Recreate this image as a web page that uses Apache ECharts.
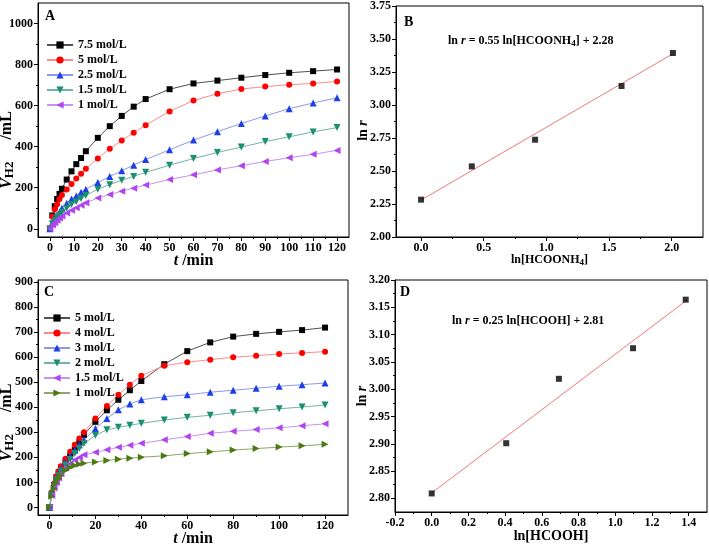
<!DOCTYPE html>
<html>
<head>
<meta charset="utf-8">
<script src="https://cdn.jsdelivr.net/npm/echarts@6/dist/echarts.min.js"></script>
<style>html,body{margin:0;padding:0;background:#fff;}#c{width:709px;height:547px;}</style>
</head>
<body>
<div id="c"></div>
<script>
// ---------- data ----------
const timesA = [0,1,2,3,4,5,7,9,11,13,15,20,25,30,35,40,50,60,70,80,90,100,110,120];
const namesA = ['7.5 mol/L','5 mol/L','2.5 mol/L','1.5 mol/L','1 mol/L'];
const a75 = [0,65,110,145,170,195,240,280,315,345,378,443,500,550,595,632,680,708,722,736,749,760,768,776];
const a5  = [0,60,95,120,145,165,192,218,245,268,292,343,390,430,468,505,572,625,658,681,693,702,708,718];
const a25 = [0,30,50,65,80,100,125,145,160,178,193,225,255,283,310,337,385,432,473,513,550,585,613,638];
const a15 = [0,25,40,55,65,80,100,118,132,148,162,193,215,237,255,275,310,342,372,398,425,448,472,493];
const a1  = [0,18,30,42,52,62,77,90,103,115,127,150,167,183,198,213,240,263,287,307,328,346,363,382];

const timesC = [0,1,2,3,4,5,7,9,11,13,15,20,25,30,35,40,50,60,70,80,90,100,110,120];
const namesC = ['5 mol/L','4 mol/L','3 mol/L','2 mol/L','1.5 mol/L','1 mol/L'];
const c5  = [0,55,90,120,140,160,185,205,230,260,290,342,388,430,468,505,572,624,659,682,693,701,708,718];
const c4  = [0,60,95,125,145,165,195,222,250,275,300,355,405,450,490,526,566,580,590,600,606,613,617,622];
const c3  = [0,55,90,115,135,155,180,205,228,250,270,315,355,390,413,430,442,450,460,468,476,484,490,497];
const c2  = [0,50,85,110,128,145,170,192,215,235,255,288,310,320,328,336,349,360,368,378,386,394,401,409];
const c15 = [0,48,78,100,118,135,158,175,190,200,210,220,230,240,248,256,270,283,296,304,311,318,326,334];
const c1  = [0,45,75,98,115,128,148,160,168,173,177,182,188,193,197,201,206,215,222,229,235,241,246,252];

const lnAmmonium = [0,0.405,0.91,1.6,2.01];
const lnrB = [2.283,2.535,2.737,3.144,3.394];
const fitBx = [0,2.01];
const fitBy = [2.28,3.388];

const lnAcid = [0,0.406,0.693,1.097,1.384];
const lnrD = [2.809,2.901,3.019,3.075,3.164];
const fitDx = [0,1.386];
const fitDy = [2.81,3.162];

// tick labels
const ticksAx = [0,10,20,30,40,50,60,70,80,90,100,110,120];
const minorAx = [5,15,25,35,45,55,65,75,85,95,105,115];
const ticksAy = [0,200,400,600,800,1000];
const minorAy = [100,300,500,700,900];
const ticksBx = [0,0.5,1.0,1.5,2.0];
const minorBx = [0.25,0.75,1.25,1.75];
const ticksBy = [2.00,2.25,2.50,2.75,3.00,3.25,3.50,3.75];
const minorBy = [2.125,2.375,2.625,2.875,3.125,3.375,3.625];
const ticksCx = [0,20,40,60,80,100,120];
const minorCx = [10,30,50,70,90,110];
const ticksCy = [0,100,200,300,400,500,600,700,800,900];
const minorCy = [50,150,250,350,450,550,650,750,850];
const ticksDx = [-0.2,0,0.2,0.4,0.6,0.8,1.0,1.2,1.4];
const minorDx = [-0.1,0.1,0.3,0.5,0.7,0.9,1.1,1.3];
const ticksDy = [2.80,2.85,2.90,2.95,3.00,3.05,3.10,3.15,3.20];
const minorDy = [2.825,2.875,2.925,2.975,3.025,3.075,3.125,3.175];

// ---------- helpers ----------
const FF = '"Liberation Serif","Times New Roman",serif';
function richFor(size, sub, subPad, gapBefore) {
  return {
    n: {fontFamily: FF, fontWeight: 'bold', fontSize: size, color: '#000'},
    p: {fontFamily: FF, fontWeight: 'bold', fontSize: size, color: '#000', padding: [0,0,0,gapBefore || 0]},
    i: {fontFamily: FF, fontWeight: 'bold', fontStyle: 'italic', fontSize: size, color: '#000'},
    s: {fontFamily: FF, fontWeight: 'bold', fontSize: sub, color: '#000', verticalAlign: 'bottom', padding: [subPad,0,0,0]}
  };
}

function mainAxis(dim, gi, min, max, majors, fmt, name, gap, size, sub, pad, subPad, gapBefore) {
  return {
    type: 'value', gridIndex: gi, min: min, max: max,
    position: dim === 'x' ? 'bottom' : 'left',
    axisLine: {show: true, onZero: false, lineStyle: {color: '#000', width: 1}},
    axisTick: {show: true, customValues: majors, length: 4, lineStyle: {color: '#000', width: 1}},
    axisLabel: {show: true, customValues: majors, formatter: fmt, color: '#000',
      fontFamily: FF, fontWeight: 'bold', fontSize: 12, margin: 5},
    splitLine: {show: false},
    name: name, nameLocation: 'middle', nameGap: gap, nameMoveOverlap: false,
    nameTextStyle: {fontFamily: FF, fontWeight: 'bold', fontSize: size, color: '#000',
      rich: richFor(size, sub, subPad != null ? subPad : Math.round(size * 0.45), gapBefore), padding: pad || 0}
  };
}
function minorAxis(dim, gi, min, max, minors) {
  return {
    type: 'value', gridIndex: gi, min: min, max: max,
    position: dim === 'x' ? 'bottom' : 'left',
    axisLine: {show: false, onZero: false},
    axisTick: {show: true, customValues: minors, length: 2, lineStyle: {color: '#000', width: 1}},
    axisLabel: {show: false},
    splitLine: {show: false}
  };
}
const f0 = v => String(Math.round(v));
const f1 = v => v.toFixed(1);
const f2 = v => v.toFixed(2);

function zip(xs, ys) { return xs.map((x, i) => [x, ys[i]]); }

function curve(prefix, name, xs, ys, ai, sym, rot, size, mcol, lcol) {
  return {
    type: 'line', name: prefix + name, xAxisIndex: ai, yAxisIndex: ai,
    data: zip(xs, ys), symbol: sym, symbolRotate: rot, symbolSize: size,
    showAllSymbol: true,
    itemStyle: {color: mcol}, lineStyle: {color: lcol, width: 1},
    emphasis: {disabled: true}, animation: false, z: 3
  };
}

const chart = echarts.init(document.getElementById('c'), null, {renderer: 'canvas'});

const gridBase = {show: true, borderColor: '#000', borderWidth: 1, containLabel: false, outerBoundsMode: 'none'};
const eqRich = richFor(12, 9, 5);

const option = {
  backgroundColor: '#fff',
  animation: false,
  grid: [
    Object.assign({left: 38, top: 3, width: 311, height: 234}, gridBase),
    Object.assign({left: 396, top: 6, width: 307, height: 231}, gridBase),
    Object.assign({left: 38, top: 280, width: 310, height: 235}, gridBase),
    Object.assign({left: 395, top: 280, width: 312, height: 232}, gridBase)
  ],
  xAxis: [
    mainAxis('x', 0, -5, 125, ticksAx, f0, '{i|t}{n| /min}', 16, 16, 12),
    minorAxis('x', 0, -5, 125, minorAx),
    mainAxis('x', 1, -0.2, 2.25, ticksBx, f1, '{n|ln[HCOONH}{s|4}{n|]}', 16, 12, 9),
    minorAxis('x', 1, -0.2, 2.25, minorBx),
    mainAxis('x', 2, -5, 130, ticksCx, f0, '{i|t}{n| /min}', 16, 16, 12),
    minorAxis('x', 2, -5, 130, minorCx),
    mainAxis('x', 3, -0.2, 1.5, ticksDx, f1, '{n|ln[HCOOH]}', 17, 14, 10),
    minorAxis('x', 3, -0.2, 1.5, minorDx)
  ],
  yAxis: [
    mainAxis('y', 0, -40, 1100, ticksAy, f0, '{i|V}{s|H2}{p|/mL}', 22, 16, 13, [0,60,0,0], 5, 22),
    minorAxis('y', 0, -40, 1100, minorAy),
    mainAxis('y', 1, 2.0, 3.75, ticksBy, f2, '{n|ln }{i|r}', 26, 14, 10, [0,18,0,0]),
    minorAxis('y', 1, 2.0, 3.75, minorBy),
    mainAxis('y', 2, -30, 908, ticksCy, f0, '{i|V}{s|H2}{p|/mL}', 22, 16, 13, [0,50,0,0], 5, 22),
    minorAxis('y', 2, -30, 908, minorCy),
    mainAxis('y', 3, 2.775, 3.2, ticksDy, f2, '{n|ln }{i|r}', 26, 14, 10),
    minorAxis('y', 3, 2.775, 3.2, minorDy)
  ],
  legend: [
    {
      orient: 'vertical', left: 46, top: 39, padding: 0, itemGap: 3,
      itemWidth: 26, itemHeight: 9,
      data: namesA.map(n => 'A: ' + n),
      formatter: n => n.replace(/^[AC]: /, ''),
      textStyle: {fontFamily: FF, fontWeight: 'bold', fontSize: 12, color: '#000'},
      selectedMode: false
    },
    {
      orient: 'vertical', left: 43, top: 312, padding: 0, itemGap: 3,
      itemWidth: 26, itemHeight: 9,
      data: namesC.map(n => 'C: ' + n),
      formatter: n => n.replace(/^[AC]: /, ''),
      textStyle: {fontFamily: FF, fontWeight: 'bold', fontSize: 12, color: '#000'},
      selectedMode: false
    }
  ],
  graphic: [
    {type: 'text', left: 45, top: 9, style: {text: 'A', font: 'bold 14px ' + FF, fill: '#000'}},
    {type: 'text', left: 404, top: 15, style: {text: 'B', font: 'bold 14px ' + FF, fill: '#000'}},
    {type: 'text', left: 44, top: 285, style: {text: 'C', font: 'bold 14px ' + FF, fill: '#000'}},
    {type: 'text', left: 400, top: 285, style: {text: 'D', font: 'bold 14px ' + FF, fill: '#000'}},
    {type: 'text', left: 448, top: 35, style: {text: '{n|ln }{i|r}{n| = 0.55 ln[HCOONH}{s|4}{n|] + 2.28}', rich: eqRich}},
    {type: 'text', left: 452, top: 315, style: {text: '{n|ln }{i|r}{n| = 0.25 ln[HCOOH] + 2.81}', rich: eqRich}}
  ],
  series: [
    curve('A: ', namesA[0], timesA, a75, 0, 'rect', 0, 6, '#000000', '#505050'),
    curve('A: ', namesA[1], timesA, a5, 0, 'circle', 0, 6, '#ff0000', '#ff8a8a'),
    curve('A: ', namesA[2], timesA, a25, 0, 'triangle', 0, 7, '#1f3fe6', '#8c9ae8'),
    curve('A: ', namesA[3], timesA, a15, 0, 'triangle', 180, 7, '#1b8f70', '#72b4a4'),
    curve('A: ', namesA[4], timesA, a1, 0, 'triangle', 90, 7, '#b044f0', '#c893f2'),

    curve('C: ', namesC[0], timesC, c5, 4, 'rect', 0, 6, '#000000', '#505050'),
    curve('C: ', namesC[1], timesC, c4, 4, 'circle', 0, 6, '#ff0000', '#ff8a8a'),
    curve('C: ', namesC[2], timesC, c3, 4, 'triangle', 0, 7, '#1f3fe6', '#8c9ae8'),
    curve('C: ', namesC[3], timesC, c2, 4, 'triangle', 180, 7, '#1b8f70', '#72b4a4'),
    curve('C: ', namesC[4], timesC, c15, 4, 'triangle', 90, 7, '#b044f0', '#c893f2'),
    curve('C: ', namesC[5], timesC, c1, 4, 'triangle', -90, 7, '#4a7a12', '#8fa868'),

    {type: 'line', name: 'fitB', xAxisIndex: 2, yAxisIndex: 2, data: zip(fitBx, fitBy),
     symbol: 'none', lineStyle: {color: '#f07a7a', width: 1}, z: 2, emphasis: {disabled: true}},
    {type: 'scatter', name: 'ptsB', xAxisIndex: 2, yAxisIndex: 2, data: zip(lnAmmonium, lnrB),
     symbol: 'rect', symbolSize: 6, itemStyle: {color: '#000'}, z: 3, emphasis: {disabled: true}},
    {type: 'line', name: 'fitD', xAxisIndex: 6, yAxisIndex: 6, data: zip(fitDx, fitDy),
     symbol: 'none', lineStyle: {color: '#f07a7a', width: 1}, z: 2, emphasis: {disabled: true}},
    {type: 'scatter', name: 'ptsD', xAxisIndex: 6, yAxisIndex: 6, data: zip(lnAcid, lnrD),
     symbol: 'rect', symbolSize: 6, itemStyle: {color: '#000'}, z: 3, emphasis: {disabled: true}}
  ]
};
chart.setOption(option);
</script>
</body>
</html>
